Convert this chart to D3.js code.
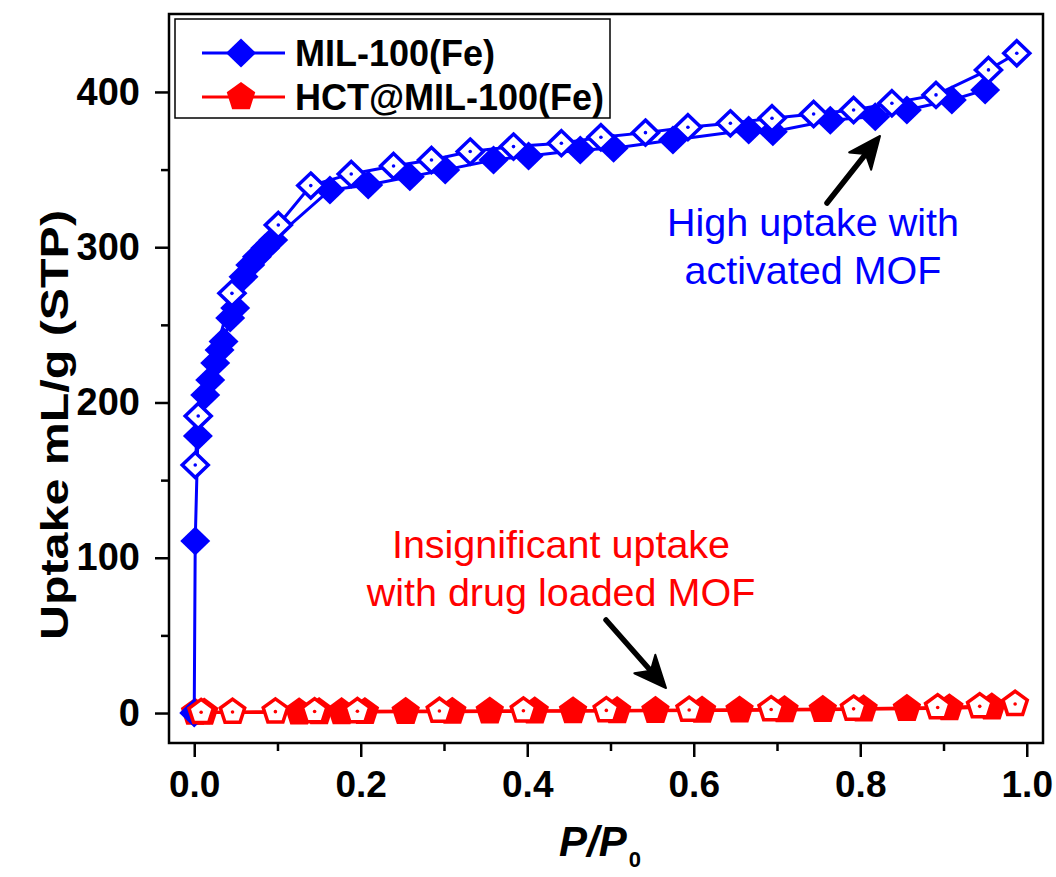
<!DOCTYPE html>
<html>
<head>
<meta charset="utf-8">
<script src="https://cdn.jsdelivr.net/npm/d3@7"></script>
<style>
  body { margin: 0; background: #fff; }
  svg { display: block; font-family: "Liberation Sans", Arial, sans-serif; }
</style>
</head>
<body>
<div id="chart"></div>
<script>
// MIL-100(Fe) adsorption branch (filled diamonds)
const mofAdsP = [0, 0.0012, 0.0044, 0.0132, 0.0192, 0.0252, 0.0304, 0.0352, 0.0432, 0.0492, 0.0592, 0.0673, 0.0753, 0.0853, 0.0949,
  0.163, 0.209, 0.259, 0.3015, 0.3595, 0.4016, 0.4637, 0.5037, 0.575, 0.666, 0.695, 0.764, 0.818, 0.856, 0.910, 0.950];
const mofAdsV = [0, 110.8, 178.4, 204.8, 214.5, 225.4, 233.8, 239.2, 254.4, 260.9, 281, 288.6, 293.9, 299.5, 304.7,
  336.9, 340.1, 345.4, 349.8, 356.2, 358.8, 362.6, 363.7, 369, 375.5, 374.4, 381.8, 384.1, 388.4, 394.8, 401.3];

// MIL-100(Fe) desorption branch (open diamonds)
const mofDesP = [0.988, 0.954, 0.891, 0.838, 0.792, 0.744, 0.694, 0.644, 0.593, 0.542, 0.4885, 0.441, 0.3835, 0.3315,
  0.285, 0.2394, 0.1886, 0.140, 0.101, 0.0453, 0.0048, 0.0012];
const mofDesV = [424.9, 414.2, 398.1, 392.7, 388.4, 385.8, 383.1, 379.8, 377.3, 373.8, 370.8, 367, 364.8, 361.6,
  356.2, 352.3, 347.2, 339.7, 314.3, 270.3, 191.3, 159.7];

// HCT@MIL-100(Fe) adsorption (filled pentagons)
const hctAdsP = [0.001, 0.012, 0.126, 0.150, 0.177, 0.205, 0.254, 0.310, 0.355, 0.409, 0.455, 0.508, 0.554, 0.610, 0.655,
  0.709, 0.755, 0.804, 0.856, 0.907, 0.958];
const hctAdsV = [0.2, 0.3, 0.5, 0.6, 0.6, 0.7, 0.8, 0.9, 1.0, 1.1, 1.2, 1.3, 1.4, 1.6, 1.7, 1.9, 2.1, 2.4, 2.7, 3.1, 3.7];

// HCT@MIL-100(Fe) desorption (open pentagons)
const hctDesP = [0.986, 0.9435, 0.893, 0.792, 0.693, 0.5945, 0.495, 0.3954, 0.2945, 0.196, 0.1446, 0.0975, 0.046, 0.0083];
const hctDesV = [5.8, 4.3, 3.6, 2.7, 2.3, 2.0, 1.7, 1.5, 1.3, 1.1, 1.0, 0.9, 0.7, 0.5];

const seriesNames = ["MIL-100(Fe)", "HCT@MIL-100(Fe)"];
const xTicks = [0, 0.2, 0.4, 0.6, 0.8, 1.0];
const yTicks = [0, 100, 200, 300, 400];

const W = 1056, H = 877;
const plot = { left: 169, right: 1043, top: 14, bottom: 743 };

const svg = d3.select("#chart").append("svg")
  .attr("width", W).attr("height", H);

const x = d3.scaleLinear().domain([-0.0303, 1.0195]).range([plot.left, plot.right]);
const y = d3.scaleLinear().domain([-19.3, 450.2]).range([plot.bottom, plot.top]);

const zip = (a, b) => a.map((v, i) => ({ p: v, v: b[i] }));

const BLUE = "#0000ff", RED = "#ff0000";

// axes
const xAxis = d3.axisBottom(x).tickValues(xTicks).tickSize(14).tickPadding(14)
  .tickFormat(d3.format(".1f"));
const gx = svg.append("g").attr("transform", `translate(0,${plot.bottom})`).call(xAxis);
svg.append("g").attr("transform", `translate(0,${plot.bottom})`)
  .call(d3.axisBottom(x).tickValues([0.1, 0.3, 0.5, 0.7, 0.9]).tickSize(8).tickFormat(""));

const yAxis = d3.axisLeft(y).tickValues(yTicks).tickSize(14).tickPadding(15);
const gy = svg.append("g").attr("transform", `translate(${plot.left},0)`).call(yAxis);
svg.append("g").attr("transform", `translate(${plot.left},0)`)
  .call(d3.axisLeft(y).tickValues([50, 150, 250, 350]).tickSize(8).tickFormat(""));

svg.selectAll(".domain").remove();
svg.selectAll(".tick line").attr("stroke", "#000").attr("stroke-width", 2.5);
gx.selectAll("text").attr("font-size", 37).attr("font-weight", "bold").attr("fill", "#000");
gy.selectAll("text").attr("font-size", 38).attr("font-weight", "bold").attr("fill", "#000");

// frame
svg.append("rect").attr("x", plot.left).attr("y", plot.top)
  .attr("width", plot.right - plot.left).attr("height", plot.bottom - plot.top)
  .attr("fill", "none").attr("stroke", "#000").attr("stroke-width", 2.5);

// axis titles
const xt = svg.append("text").attr("x", 600).attr("y", 856).attr("text-anchor", "middle")
  .attr("font-size", 42).attr("font-weight", "bold").attr("font-style", "italic");
xt.append("tspan").text("P/P");
xt.append("tspan").attr("font-size", 22).attr("font-style", "normal").attr("dy", 11).attr("dx", 2).text("0");

svg.append("text").attr("transform", "translate(68,425) rotate(-90)")
  .attr("text-anchor", "middle").attr("font-size", 38).attr("font-weight", "bold")
  .attr("textLength", 430).attr("lengthAdjust", "spacingAndGlyphs")
  .text("Uptake mL/g (STP)");

// marker shapes
const diamond = (hw, hh) => `M0,${-hh}L${hw},0L0,${hh}L${-hw},0Z`;
const pentagon = r => d3.range(5).map(k => {
  const a = -Math.PI / 2 + k * 2 * Math.PI / 5;
  return [r * Math.cos(a), r * Math.sin(a)];
});
const pentPath = r => "M" + pentagon(r).map(p => p.join(",")).join("L") + "Z";

const line = d3.line().x(d => x(d.p)).y(d => y(d.v));

function drawSeries(data, color, shape, open) {
  const g = svg.append("g");
  g.append("path").datum(data).attr("d", line)
    .attr("fill", "none").attr("stroke", color).attr("stroke-width", 3);
  const m = g.selectAll("g.m").data(data).join("g")
    .attr("transform", d => `translate(${x(d.p)},${y(d.v)})`);
  if (open) {
    m.append("path").attr("d", shape.open).attr("fill", "#fff")
      .attr("stroke", color).attr("stroke-width", 3.5).attr("stroke-linejoin", "miter");
    m.append("circle").attr("r", 1.8).attr("fill", color);
  } else {
    m.append("path").attr("d", shape.filled).attr("fill", color);
  }
}

const dShape = { filled: diamond(15, 14.5), open: diamond(13, 12.5) };
const pShape = { filled: pentPath(15), open: pentPath(12.8) };

drawSeries(zip(hctAdsP, hctAdsV), RED, pShape, false);
drawSeries(zip(mofAdsP, mofAdsV), BLUE, dShape, false);
drawSeries(zip(mofDesP, mofDesV), BLUE, dShape, true);
drawSeries(zip(hctDesP, hctDesV), RED, pShape, true);

// legend
svg.append("rect").attr("x", 175).attr("y", 19).attr("width", 435).attr("height", 99)
  .attr("fill", "#fff").attr("stroke", "#000").attr("stroke-width", 1.5);
const legRows = [
  { name: seriesNames[0], color: BLUE, d: dShape.filled, y: 53 },
  { name: seriesNames[1], color: RED, d: pShape.filled, y: 97 }
];
legRows.forEach(r => {
  svg.append("line").attr("x1", 202).attr("x2", 285).attr("y1", r.y).attr("y2", r.y)
    .attr("stroke", r.color).attr("stroke-width", 3);
  svg.append("path").attr("d", r.d).attr("fill", r.color)
    .attr("transform", `translate(241,${r.y})`);
  svg.append("text").attr("x", 295).attr("y", r.y + 13).attr("font-size", 36)
    .attr("font-weight", "bold").text(r.name);
});

// annotations
function note(lines, cx, y0, color) {
  lines.forEach((t, i) => svg.append("text").attr("x", cx).attr("y", y0 + i * 48)
    .attr("text-anchor", "middle").attr("font-size", 39.5).attr("fill", color).text(t));
}
note(["High uptake with", "activated MOF"], 813, 236, BLUE);
note(["Insignificant uptake", "with drug loaded MOF"], 561, 558, RED);

function arrow(x1, y1, x2, y2) {
  const ang = Math.atan2(y2 - y1, x2 - x1);
  const len = 32, wid = 14;
  const bx = x2 - len * Math.cos(ang), by = y2 - len * Math.sin(ang);
  const nx = -Math.sin(ang), ny = Math.cos(ang);
  const nbx = x2 - (len * 0.72) * Math.cos(ang), nby = y2 - (len * 0.72) * Math.sin(ang);
  svg.append("line").attr("x1", x1).attr("y1", y1).attr("x2", nbx).attr("y2", nby)
    .attr("stroke", "#000").attr("stroke-width", 5.5).attr("stroke-linecap", "round");
  svg.append("path").attr("d",
    `M${x2},${y2}L${bx + nx * wid},${by + ny * wid}L${nbx},${nby}L${bx - nx * wid},${by - ny * wid}Z`)
    .attr("fill", "#000").attr("stroke", "#000").attr("stroke-width", 2).attr("stroke-linejoin", "round");
}
arrow(827, 203, 880, 136);
arrow(606, 620, 666, 688);
</script>
</body>
</html>
